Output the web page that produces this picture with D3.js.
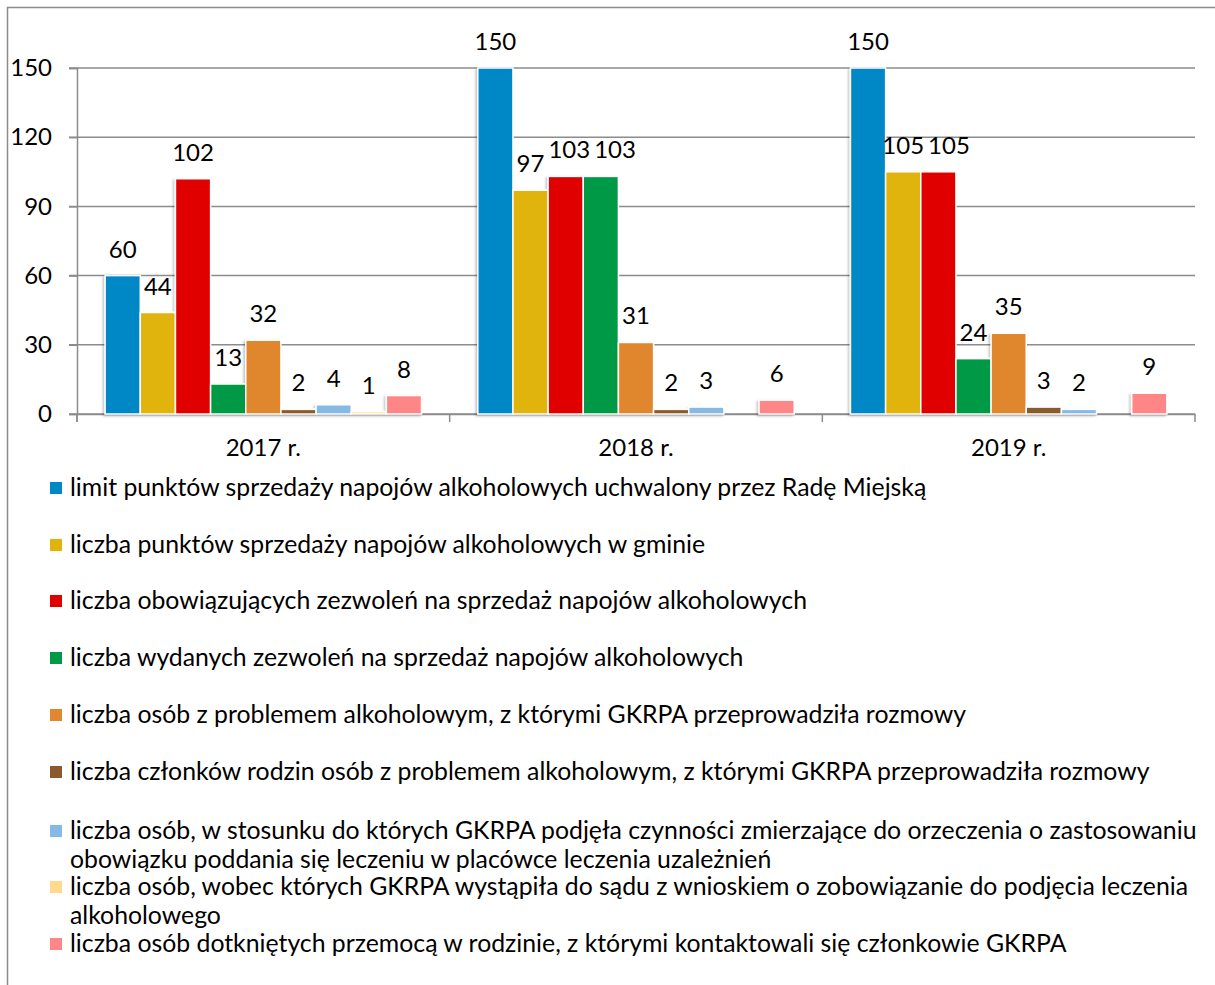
<!DOCTYPE html>
<html>
<head>
<meta charset="utf-8">
<script src="https://cdn.jsdelivr.net/npm/d3@7"></script>
<style>
  html, body { margin: 0; padding: 0; background: #fff; }
  svg { display: block; }
  text { font-family: Lato, "Open Sans", "DejaVu Sans", sans-serif; fill: #000; }
</style>
</head>
<body>
<div id="chart"></div>
<script>
const categories = ["2017 r.", "2018 r.", "2019 r."];
const seriesNames = [
  "limit punktów sprzedaży napojów alkoholowych uchwalony przez Radę Miejską",
  "liczba punktów sprzedaży napojów alkoholowych w gminie",
  "liczba obowiązujących zezwoleń na sprzedaż napojów alkoholowych",
  "liczba wydanych zezwoleń na sprzedaż napojów alkoholowych",
  "liczba osób z problemem alkoholowym, z którymi GKRPA przeprowadziła rozmowy",
  "liczba członków rodzin osób z problemem alkoholowym, z którymi GKRPA przeprowadziła rozmowy",
  "liczba osób, w stosunku do których GKRPA podjęła czynności zmierzające do orzeczenia o zastosowaniu obowiązku poddania się leczeniu w placówce leczenia uzależnień",
  "liczba osób, wobec których GKRPA wystąpiła do sądu z wnioskiem o zobowiązanie do podjęcia leczenia alkoholowego",
  "liczba osób dotkniętych przemocą w rodzinie, z którymi kontaktowali się członkowie GKRPA"
];
const seriesColors = ["#0088C6", "#E1B40B", "#E10000", "#009A46", "#E0872F", "#8A5A2C", "#86B9E5", "#FFD98C", "#FF8686"];
// values per series, for 2017, 2018, 2019 (null = no bar)
const values = [
  [60, 150, 150],
  [44, 97, 105],
  [102, 103, 105],
  [13, 103, 24],
  [32, 31, 35],
  [2, 2, 3],
  [4, 3, 2],
  [1, null, null],
  [8, 6, 9]
];
const yTicks = [0, 30, 60, 90, 120, 150];

const W = 1215, H = 985;
const FS = 24, LFS = 24.8;
const svg = d3.select("#chart").append("svg").attr("width", W).attr("height", H);

const defs = svg.append("defs");
const f = defs.append("filter").attr("id", "shadow").attr("x", "-20%").attr("y", "-5%").attr("width", "140%").attr("height", "110%");
f.append("feDropShadow").attr("dx", -1.5).attr("dy", 1.5).attr("stdDeviation", 1.2)
  .attr("flood-color", "#000").attr("flood-opacity", 0.25);

// outer frame
svg.append("path").attr("d", `M7.5,${H} V7.5 H${W}`).attr("fill", "none").attr("stroke", "#8c8c8c").attr("stroke-width", 1.5);

const plot = { left: 77, right: 1195, top: 68, bottom: 414 };
const x0 = d3.scaleBand().domain(categories).range([plot.left, plot.right]).paddingInner(0).paddingOuter(0);
const x1 = d3.scaleBand().domain(d3.range(seriesNames.length)).range([0, x0.bandwidth()]).paddingInner(0).paddingOuter(0.8);
const y = d3.scaleLinear().domain([0, 150]).range([plot.bottom, plot.top]);

const gridColor = "#8c8c8c";
svg.append("g").selectAll("line").data(yTicks).join("line")
  .attr("x1", plot.left - 8).attr("x2", plot.right)
  .attr("y1", d => y(d)).attr("y2", d => y(d))
  .attr("stroke", gridColor).attr("stroke-width", 1.5);

// y axis
const yAxis = svg.append("g").attr("transform", `translate(${plot.left},0)`)
  .call(d3.axisLeft(y).tickValues(yTicks).tickSize(8).tickPadding(17));
yAxis.select(".domain").attr("stroke", gridColor).attr("stroke-width", 1.5);
yAxis.selectAll(".tick line").attr("stroke", gridColor).attr("stroke-width", 1.5);
yAxis.selectAll(".tick text").attr("font-size", FS).attr("font-family", "Lato, sans-serif").attr("fill", "#000");
svg.append("line").attr("x1", plot.left).attr("x2", plot.left).attr("y1", plot.bottom).attr("y2", plot.bottom + 8)
  .attr("stroke", gridColor).attr("stroke-width", 1.5);

// x axis
const xAxis = svg.append("g").attr("transform", `translate(0,${plot.bottom})`)
  .call(d3.axisBottom(x0).tickSize(0).tickPadding(25));
xAxis.select(".domain").attr("stroke", gridColor).attr("stroke-width", 1.5);
xAxis.selectAll(".tick text").attr("font-size", FS).attr("font-family", "Lato, sans-serif").attr("fill", "#000");
const bounds = categories.map(c => x0(c)).concat([x0(categories[categories.length - 1]) + x0.bandwidth()]);
svg.append("g").selectAll("line").data(bounds).join("line")
  .attr("x1", d => d).attr("x2", d => d).attr("y1", plot.bottom).attr("y2", plot.bottom + 8)
  .attr("stroke", gridColor).attr("stroke-width", 1.5);

// bars
const barData = [];
values.forEach((vals, si) => vals.forEach((v, ci) => {
  if (v !== null) barData.push({ si, ci, v });
}));
const bw = x1.bandwidth();
svg.append("g").attr("filter", "url(#shadow)").selectAll("rect").data(barData).join("rect")
  .attr("x", d => x0(categories[d.ci]) + x1(d.si))
  .attr("y", d => y(d.v))
  .attr("width", bw)
  .attr("height", d => y(0) - y(d.v))
  .attr("fill", d => seriesColors[d.si])
  .attr("stroke", "#fff").attr("stroke-width", 1.5);

// value labels with simple overlap avoidance (shift right)
const labels = svg.append("g").selectAll("text").data(barData).join("text")
  .attr("x", d => x0(categories[d.ci]) + x1(d.si) + bw / 2)
  .attr("y", d => y(d.v) - 18)
  .attr("text-anchor", "middle")
  .attr("font-size", FS)
  .text(d => d.v);
categories.forEach((c, ci) => {
  const nodes = labels.filter(d => d.ci === ci).nodes();
  nodes.sort((a, b) => d3.select(a).datum().si - d3.select(b).datum().si);
  for (let i = 1; i < nodes.length; i++) {
    const p = nodes[i - 1].getBBox(), q = nodes[i].getBBox();
    const vOverlap = q.y < p.y + p.height - 4 && p.y < q.y + q.height - 4;
    const need = p.x + p.width + 4 - q.x;
    if (vOverlap && need > 0) {
      nodes[i].setAttribute("x", +nodes[i].getAttribute("x") + need);
    }
  }
});

// legend
const legendLeft = 50, textLeft = 70, wrapWidth = 1140;
const rowYs = [488, 545, 601, 658, 715, 772, 831, 887, 944];
const lg = svg.append("g");
seriesNames.forEach((name, i) => {
  const yy = rowYs[i];
  lg.append("rect").attr("x", legendLeft).attr("y", yy - 6).attr("width", 12).attr("height", 12).attr("fill", seriesColors[i]);
  const t = lg.append("text").attr("x", textLeft).attr("y", yy + 8).attr("font-size", LFS);
  const words = name.split(" ");
  let line = [], tspan = t.append("tspan").attr("x", textLeft);
  words.forEach(w => {
    line.push(w);
    tspan.text(line.join(" "));
    if (tspan.node().getComputedTextLength() > wrapWidth && line.length > 1) {
      line.pop();
      tspan.text(line.join(" "));
      line = [w];
      tspan = t.append("tspan").attr("x", textLeft).attr("dy", 29).text(w);
    }
  });
});
</script>
</body>
</html>
